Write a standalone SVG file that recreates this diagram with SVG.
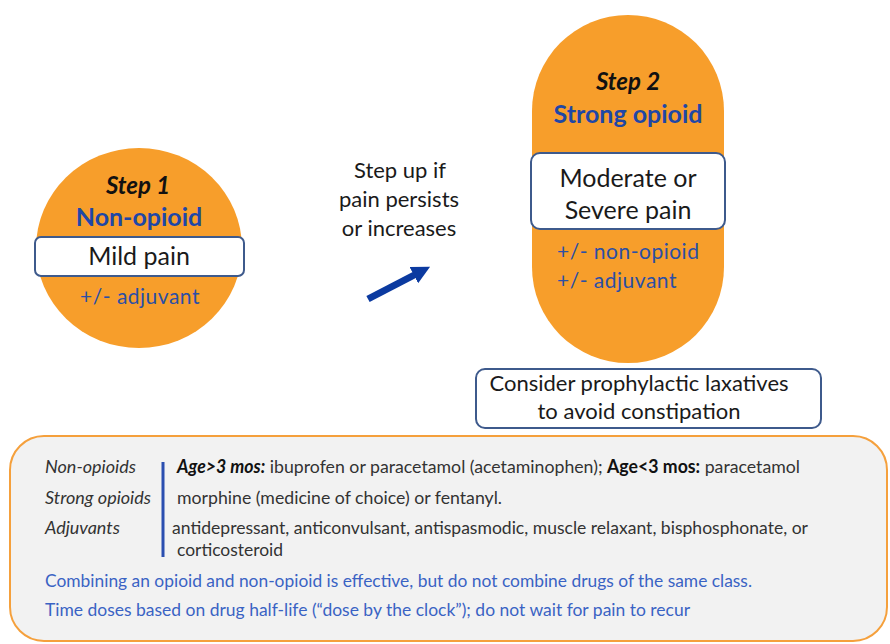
<svg xmlns="http://www.w3.org/2000/svg" width="890" height="644" viewBox="0 0 890 644">
<defs>
<style>
text{font-family:Lato,"Open Sans","Liberation Sans",sans-serif}
.org{fill:#F79E2B}
.wbox{fill:#ffffff;stroke:#3E5A8C;stroke-width:2}
.step{font-weight:bold;font-style:italic;font-size:24px;fill:#111;text-anchor:middle}
.drug{font-weight:bold;font-size:25px;fill:#1F47A6;text-anchor:middle}
.pain{font-size:25px;fill:#1a1a1a;text-anchor:middle}
.adj{font-size:21px;fill:#2B4FA6;letter-spacing:0.5px}
.note{font-size:22px;fill:#1a1a1a;text-anchor:middle}
.lbl{font-size:18px;font-style:italic;fill:#333}
.body{font-size:18px;fill:#333}
.blue{font-size:18px;fill:#3A63C4}
</style>
<marker id="ah" viewBox="0 0 10 10" refX="5" refY="5" markerWidth="2.6" markerHeight="2.6" orient="auto" markerUnits="strokeWidth">
<path d="M0,0 L10,5 L0,10 z" fill="#0B3AA0"/>
</marker>
</defs>
<rect width="890" height="644" fill="#ffffff"/>

<g id="step1">
<ellipse class="org" cx="139" cy="248" rx="103" ry="100"/>
<text class="step" x="138" y="194">Step 1</text>
<text class="drug" x="139" y="226">Non-opioid</text>
<rect class="wbox" x="35" y="237" width="209" height="39" rx="6"/>
<text class="pain" x="139" y="265">Mild pain</text>
<text class="adj" x="140" y="304" text-anchor="middle">+/- adjuvant</text>
</g>

<g id="step2">
<rect class="org" x="532" y="15" width="192" height="348" rx="96"/>
<text class="step" x="628" y="90">Step 2</text>
<text class="drug" x="628" y="123">Strong opioid</text>
<rect class="wbox" x="531" y="153" width="194" height="76" rx="9"/>
<text class="pain" x="628" y="187">Moderate or</text>
<text class="pain" x="628" y="219">Severe pain</text>
<text class="adj" x="557" y="259">+/- non-opioid</text>
<text class="adj" x="557" y="288">+/- adjuvant</text>
</g>

<g id="laxatives">
<rect class="wbox" x="476" y="369" width="345" height="59" rx="9"/>
<text class="note" x="639" y="391">Consider prophylactic laxatives</text>
<text class="note" x="639" y="419">to avoid constipation</text>
</g>

<g id="stepup">
<text class="note" x="400" y="178">Step up if</text>
<text class="note" x="399" y="207">pain persists</text>
<text class="note" x="399" y="236">or increases</text>
</g>

<g id="connectors">
<line x1="368" y1="299" x2="422" y2="271" stroke="#0B3AA0" stroke-width="7" marker-end="url(#ah)"/>
</g>

<g id="legend">
<rect x="10" y="436" width="877" height="205" rx="34" fill="#F2F2F2" stroke="#F5A03C" stroke-width="2"/>
<line x1="163" y1="462" x2="163" y2="557" stroke="#2B4FB0" stroke-width="3"/>
<text class="lbl" x="45" y="473">Non-opioids</text>
<text class="lbl" x="45" y="504">Strong opioids</text>
<text class="lbl" x="45" y="534">Adjuvants</text>
<text class="body" x="177" y="473" textLength="623" lengthAdjust="spacingAndGlyphs"><tspan font-weight="bold" font-style="italic" fill="#111">Age&gt;3 mos:</tspan> ibuprofen or paracetamol (acetaminophen); <tspan font-weight="bold" fill="#111">Age&lt;3 mos:</tspan> paracetamol</text>
<text class="body" x="177" y="504" textLength="325" lengthAdjust="spacingAndGlyphs">morphine (medicine of choice) or fentanyl.</text>
<text class="body" x="172" y="534" textLength="636" lengthAdjust="spacingAndGlyphs">antidepressant, anticonvulsant, antispasmodic, muscle relaxant, bisphosphonate, or</text>
<text class="body" x="177" y="556" textLength="106" lengthAdjust="spacingAndGlyphs">corticosteroid</text>
<text class="blue" x="45" y="587" textLength="707" lengthAdjust="spacingAndGlyphs">Combining an opioid and non-opioid is effective, but do not combine drugs of the same class.</text>
<text class="blue" x="45" y="616" textLength="645" lengthAdjust="spacingAndGlyphs">Time doses based on drug half-life (“dose by the clock”); do not wait for pain to recur</text>
</g>
</svg>
